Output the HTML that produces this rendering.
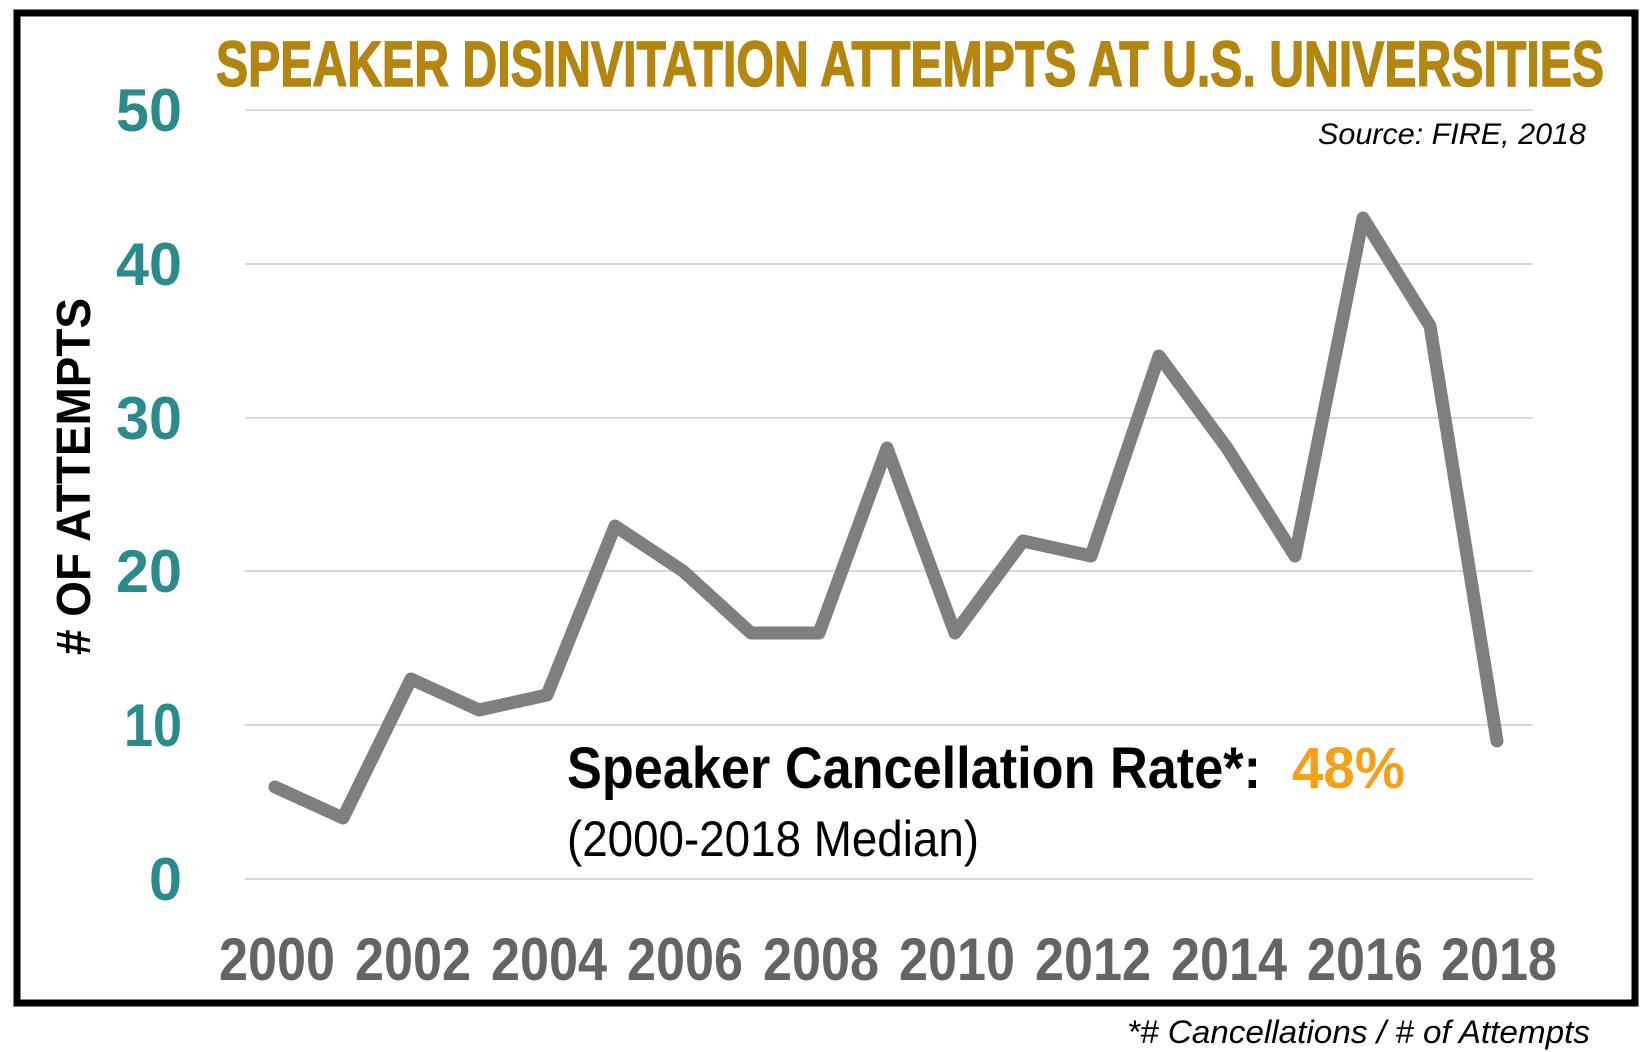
<!DOCTYPE html>
<html><head><meta charset="utf-8"><style>html,body{margin:0;padding:0;background:#fff}svg{display:block}</style></head>
<body>
<svg width="1645" height="1052" viewBox="0 0 1645 1052" xmlns="http://www.w3.org/2000/svg" font-family="Liberation Sans, sans-serif">
<rect x="0" y="0" width="1645" height="1052" fill="#fff"/>
<rect x="17" y="13" width="1618" height="990" fill="none" stroke="#000" stroke-width="7"/>
<g stroke="#d9d9d9" stroke-width="2">
<line x1="245" y1="110" x2="1533" y2="110"/>
<line x1="245" y1="264" x2="1533" y2="264"/>
<line x1="245" y1="418" x2="1533" y2="418"/>
<line x1="245" y1="571" x2="1533" y2="571"/>
<line x1="245" y1="725" x2="1533" y2="725"/>
<line x1="245" y1="879" x2="1533" y2="879"/>
</g>
<text x="216" y="86" font-size="64" font-weight="bold" fill="#b4860f" stroke="#b4860f" stroke-width="1.5" textLength="1388" lengthAdjust="spacingAndGlyphs">SPEAKER DISINVITATION ATTEMPTS AT U.S. UNIVERSITIES</text>
<text x="1586" y="144" font-size="30" font-style="italic" fill="#000" text-anchor="end" textLength="268" lengthAdjust="spacingAndGlyphs">Source: FIRE, 2018</text>
<g font-size="60" font-weight="bold" fill="#2a8a8c" text-anchor="end">
<text x="182" y="131" textLength="66" lengthAdjust="spacingAndGlyphs">50</text>
<text x="182" y="285" textLength="66" lengthAdjust="spacingAndGlyphs">40</text>
<text x="182" y="439" textLength="66" lengthAdjust="spacingAndGlyphs">30</text>
<text x="182" y="592" textLength="66" lengthAdjust="spacingAndGlyphs">20</text>
<text x="182" y="746" textLength="58" lengthAdjust="spacingAndGlyphs">10</text>
<text x="182" y="900" textLength="33" lengthAdjust="spacingAndGlyphs">0</text>
</g>
<text transform="translate(90,655) rotate(-90)" font-size="48" font-weight="bold" fill="#000" textLength="357" lengthAdjust="spacingAndGlyphs"># OF ATTEMPTS</text>
<polyline fill="none" stroke="#7f7f7f" stroke-width="13" stroke-linejoin="round" stroke-linecap="round"
points="275,787 343,818 411,679 479,710 547,695 615,526 683,571 751,633 819,633 887,448 955,633 1023,541 1091,556 1159,356 1227,448 1295,556 1363,218 1430,326 1497,741"/>
<g font-size="60" font-weight="bold" fill="#646464" text-anchor="middle">
<text x="277" y="980" textLength="116" lengthAdjust="spacingAndGlyphs">2000</text>
<text x="413" y="980" textLength="116" lengthAdjust="spacingAndGlyphs">2002</text>
<text x="549" y="980" textLength="116" lengthAdjust="spacingAndGlyphs">2004</text>
<text x="685" y="980" textLength="116" lengthAdjust="spacingAndGlyphs">2006</text>
<text x="821" y="980" textLength="116" lengthAdjust="spacingAndGlyphs">2008</text>
<text x="957" y="980" textLength="116" lengthAdjust="spacingAndGlyphs">2010</text>
<text x="1093" y="980" textLength="116" lengthAdjust="spacingAndGlyphs">2012</text>
<text x="1229" y="980" textLength="116" lengthAdjust="spacingAndGlyphs">2014</text>
<text x="1365" y="980" textLength="116" lengthAdjust="spacingAndGlyphs">2016</text>
<text x="1499" y="980" textLength="116" lengthAdjust="spacingAndGlyphs">2018</text>
</g>
<text x="567" y="788" font-size="58" font-weight="bold" fill="#000" textLength="694" lengthAdjust="spacingAndGlyphs">Speaker Cancellation Rate*:</text>
<text x="1292" y="788" font-size="58" font-weight="bold" fill="#f5a01a" textLength="113" lengthAdjust="spacingAndGlyphs">48%</text>
<text x="567" y="856" font-size="50" fill="#000" textLength="412" lengthAdjust="spacingAndGlyphs">(2000-2018 Median)</text>
<text x="1590" y="1043" font-size="32" font-style="italic" fill="#000" text-anchor="end" textLength="463" lengthAdjust="spacingAndGlyphs">*# Cancellations / # of Attempts</text>
</svg>
</body></html>
